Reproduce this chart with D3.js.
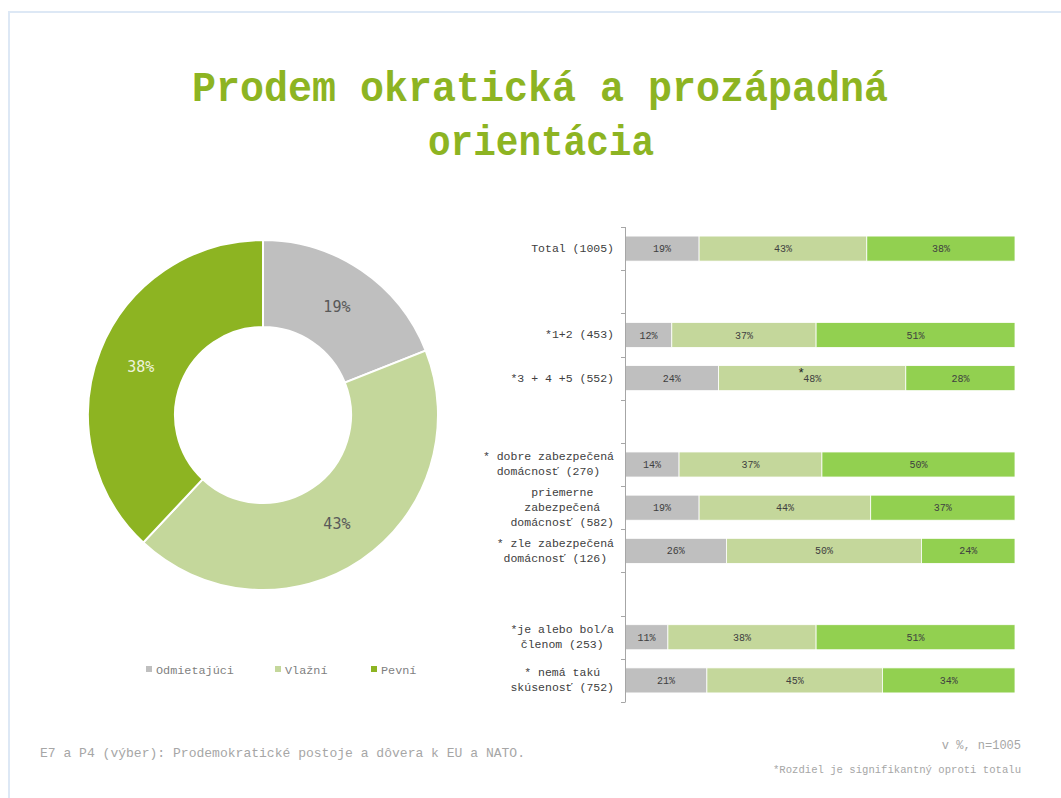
<!DOCTYPE html>
<html>
<head>
<meta charset="utf-8">
<script src="https://cdn.jsdelivr.net/npm/d3@7"></script>
<style>
  body { margin: 0; background: #fff; }
  svg { display: block; }
</style>
</head>
<body>
<svg id="chart" width="1061" height="798"></svg>
<script>
// series names and colours
const seriesNames = ["Odmietajúci", "Vlažní", "Pevní"];
const donutValues = [19, 43, 38];

// bar categories, empty arrays are the spacer rows
const categoryLines = [
    ["Total (1005)"],
    [],
    ["*1+2 (453)"],
    ["*3 + 4 +5 (552)"],
    [],
    ["* dobre zabezpečená", "domácnosť (270)"],
    ["priemerne", "zabezpečená", "domácnosť (582)"],
    ["* zle zabezpečená", "domácnosť (126)"],
    [],
    ["*je alebo bol/a", "členom (253)"],
    ["* nemá takú", "skúsenosť (752)"]
];
const odmietajuci = [19, null, 12, 24, null, 14, 19, 26, null, 11, 21];
const vlazni      = [43, null, 37, 48, null, 37, 44, 50, null, 38, 45];
const pevni       = [38, null, 51, 28, null, 50, 37, 24, null, 51, 34];
// significance star above a segment: [row index, series index]
const starMarks = [[3, 1]];

const barColors = ["#bfbfbf", "#c4d79b", "#92d050"];
const donutColors = ["#bfbfbf", "#c4d79b", "#8db422"];

const svg = d3.select("#chart");

// slide frame
svg.append("line").attr("x1", 8).attr("x2", 1061).attr("y1", 12).attr("y2", 12)
    .attr("stroke", "#dde8f5").attr("stroke-width", 2);
svg.append("line").attr("x1", 9).attr("x2", 9).attr("y1", 11).attr("y2", 798)
    .attr("stroke", "#dde8f5").attr("stroke-width", 2);

// title
const title = svg.append("g")
    .attr("font-family", "'Liberation Mono', monospace")
    .attr("font-weight", "bold")
    .attr("font-size", 42)
    .attr("fill", "#8db422")
    .attr("text-anchor", "middle");
title.append("text").attr("x", 540).attr("y", 101)
    .attr("textLength", 696).attr("lengthAdjust", "spacingAndGlyphs")
    .text("Prodem okratická a prozápadná");
title.append("text").attr("x", 541).attr("y", 155)
    .attr("textLength", 226).attr("lengthAdjust", "spacingAndGlyphs")
    .text("orientácia");

// ---- donut ----
const cx = 263, cy = 415, rOuter = 175, rInner = 88;
const pie = d3.pie().sort(null).value(d => d);
const arc = d3.arc().innerRadius(rInner).outerRadius(rOuter);
const donut = svg.append("g").attr("transform", `translate(${cx},${cy})`);
const arcs = pie(donutValues);

donut.selectAll("path")
    .data(arcs)
    .enter()
    .append("path")
    .attr("d", arc)
    .attr("fill", (d, i) => donutColors[i])
    .attr("stroke", "#fff")
    .attr("stroke-width", 2);

donut.selectAll("text")
    .data(arcs)
    .enter()
    .append("text")
    .attr("x", d => arc.centroid(d)[0])
    .attr("y", d => arc.centroid(d)[1])
    .attr("dy", "0.36em")
    .attr("text-anchor", "middle")
    .attr("font-family", "'DejaVu Sans Mono', monospace")
    .attr("font-size", 15)
    .attr("fill", (d, i) => i === 2 ? "#eef3dc" : "#595959")
    .text(d => d.data + "%");

// legend
const legendX = [146, 275, 371];
const legend = svg.append("g");
seriesNames.forEach((name, i) => {
    legend.append("rect")
        .attr("x", legendX[i]).attr("y", 666)
        .attr("width", 6).attr("height", 6)
        .attr("fill", donutColors[i]);
    legend.append("text")
        .attr("x", legendX[i] + 10).attr("y", 673.5)
        .attr("font-family", "'Liberation Mono', monospace")
        .attr("font-size", 11.8)
        .attr("fill", "#7f7f7f")
        .text(name);
});

// ---- stacked bars ----
const rows = categoryLines.map((lines, i) => ({
    i: i,
    lines: lines,
    values: [odmietajuci[i], vlazni[i], pevni[i]]
}));

const y = d3.scaleBand()
    .domain(rows.map(d => d.i))
    .range([227, 702])
    .padding(0);
const x = d3.scaleLinear().domain([0, 100]).range([625, 1015]);
const barH = y.bandwidth() * 0.58;

const bars = svg.append("g");
rows.filter(r => r.values[0] != null).forEach(r => {
    const total = d3.sum(r.values);
    let acc = 0;
    const by = y(r.i) + (y.bandwidth() - barH) / 2;
    r.values.forEach((v, s) => {
        const x0 = x(acc / total * 100);
        acc += v;
        const x1 = x(acc / total * 100);
        bars.append("rect")
            .attr("x", x0).attr("y", by)
            .attr("width", x1 - x0).attr("height", barH)
            .attr("fill", barColors[s])
            .attr("stroke", "#fff").attr("stroke-width", 0.8);
        bars.append("text")
            .attr("x", (x0 + x1) / 2).attr("y", by + barH / 2)
            .attr("dy", "0.36em")
            .attr("text-anchor", "middle")
            .attr("font-family", "'Liberation Mono', monospace")
            .attr("font-size", 10)
            .attr("fill", "#404040")
            .text(v + "%");
        if (starMarks.some(m => m[0] === r.i && m[1] === s)) {
            bars.append("text")
                .attr("x", (x0 + x1) / 2 - 11).attr("y", by + 11)
                .attr("text-anchor", "middle")
                .attr("font-family", "'Liberation Mono', monospace")
                .attr("font-size", 13)
                .attr("fill", "#222")
                .text("*");
        }
    });
});

// category axis: line with ticks on band edges
const axis = svg.append("g").attr("stroke", "#a6a6a6").attr("stroke-width", 1);
axis.append("line").attr("x1", 625.5).attr("x2", 625.5)
    .attr("y1", y.range()[0]).attr("y2", y.range()[1]);
const edges = rows.map(r => y(r.i)).concat([y.range()[1]]);
axis.selectAll(".tick")
    .data(edges)
    .enter()
    .append("line")
    .attr("x1", 621).attr("x2", 625.5)
    .attr("y1", d => Math.round(d) + 0.5).attr("y2", d => Math.round(d) + 0.5);

// category labels: wrapped lines centred in a block right-aligned to the axis
const labelRight = 614, lineH = 15;
rows.filter(r => r.lines.length).forEach(r => {
    const g = svg.append("g")
        .attr("font-family", "'Liberation Mono', monospace")
        .attr("font-size", 11.5)
        .attr("fill", "#404040");
    const texts = r.lines.map(t => g.append("text").text(t));
    const widths = texts.map(t => t.node().getComputedTextLength());
    const maxW = d3.max(widths);
    const mid = labelRight - maxW / 2;
    const yc = y(r.i) + y.bandwidth() / 2;
    const top = yc - (r.lines.length - 1) * lineH / 2;
    texts.forEach((t, k) => {
        t.attr("x", mid).attr("text-anchor", "middle")
            .attr("y", top + k * lineH).attr("dy", "0.3em");
    });
});

// footer
const foot = svg.append("g")
    .attr("font-family", "'Liberation Mono', monospace")
    .attr("fill", "#a6a6a6");
foot.append("text").attr("x", 40).attr("y", 757)
    .attr("font-size", 13)
    .attr("textLength", 485).attr("lengthAdjust", "spacingAndGlyphs")
    .text("E7 a P4 (výber): Prodemokratické postoje a dôvera k EU a NATO.");
foot.append("text").attr("x", 1021).attr("y", 749)
    .attr("font-size", 12).attr("text-anchor", "end")
    .text("v %, n=1005");
foot.append("text").attr("x", 1021).attr("y", 773)
    .attr("font-size", 11).attr("text-anchor", "end")
    .attr("textLength", 248).attr("lengthAdjust", "spacingAndGlyphs")
    .text("*Rozdiel je signifikantný oproti totalu");
</script>
</body>
</html>
